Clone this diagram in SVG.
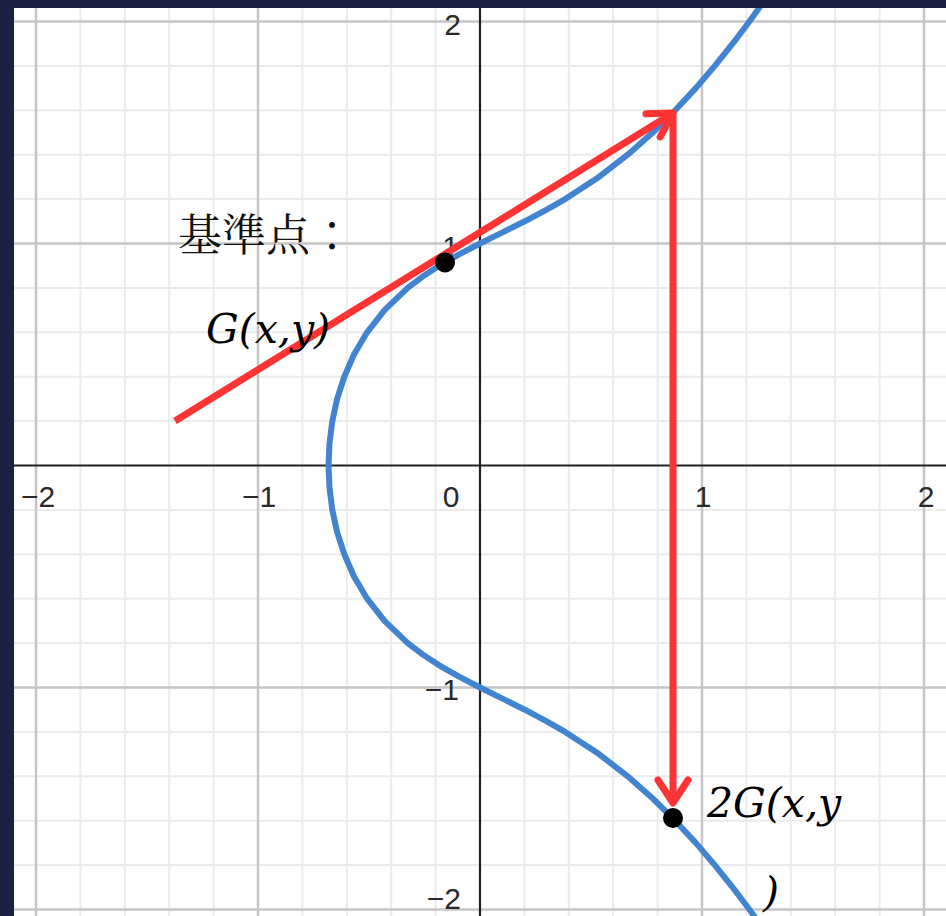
<svg xmlns="http://www.w3.org/2000/svg" width="946" height="916" viewBox="0 0 946 916">
<style>
.minor{stroke:#ebebeb;stroke-width:2;fill:none}
.major{stroke:#c6c6c6;stroke-width:2.5;fill:none}
.axis{stroke:#222;stroke-width:2.2;fill:none}
.tick{font-family:"Liberation Sans",Arial,sans-serif;font-size:30px;fill:#2a2a2a}
.curve{stroke:#4384d0;stroke-width:6;fill:none;stroke-linejoin:round;stroke-linecap:round}
.red{stroke:#fe3434;stroke-width:7;fill:none;stroke-linejoin:round}
.dot{fill:#000}
.math{font-family:"DejaVu Serif","Liberation Serif",serif;font-style:italic;font-size:41px;fill:#000}
.cjk{font-family:"Noto Serif CJK JP","Noto Sans CJK JP",serif;font-size:44px;fill:#111}
</style>
<rect x="0" y="0" width="946" height="916" fill="#ffffff"/>
<g id="grid">
<path class="minor" d="M80.4,0V916M124.8,0V916M169.2,0V916M213.6,0V916M302.4,0V916M346.8,0V916M391.2,0V916M435.6,0V916M524.4,0V916M568.8,0V916M613.2,0V916M657.6,0V916M746.4,0V916M790.8,0V916M835.2,0V916M879.6,0V916M0,65.9H946M0,110.3H946M0,154.7H946M0,199.1H946M0,287.9H946M0,332.3H946M0,376.7H946M0,421.1H946M0,509.9H946M0,554.3H946M0,598.7H946M0,643.1H946M0,731.9H946M0,776.3H946M0,820.7H946M0,865.1H946"/>
<path class="major" d="M36,0V916M258,0V916M702,0V916M924,0V916M0,21.5H946M0,243.5H946M0,687.5H946M0,909.5H946"/>
<path class="axis" d="M480,0V916M0,465.5H946"/>
</g>
<g id="ticks" class="tick">
<text x="461" y="35" text-anchor="end">2</text>
<text x="459" y="257" text-anchor="end">1</text>
<text x="459" y="700" text-anchor="end">−1</text>
<text x="461" y="909" text-anchor="end">−2</text>
<text x="38" y="507" text-anchor="middle">−2</text>
<text x="259" y="507" text-anchor="middle">−1</text>
<text x="451" y="507" text-anchor="middle">0</text>
<text x="703" y="507" text-anchor="middle">1</text>
<text x="926" y="507" text-anchor="middle">2</text>
</g>
<g id="curve">
<path class="curve" d="M765.4,-0.7 L749.4,21.5 L732.6,43.7 L714.8,65.9 L695.8,88.1 L675.2,110.3 L652.8,132.5 L627.7,154.7 L599,176.9 L565.2,199.1 L545.8,210.2 L524.8,221.3 L502.5,232.4 L480,243.5 L458.6,254.6 L439.2,265.7 L422.3,276.8 L407.7,287.9 L384.5,310.1 L367.1,332.3 L354,354.5 L344.3,376.7 L337.1,398.9 L332.3,421.1 L329.5,443.3 L328.5,465.5 L329.5,487.7 L332.3,509.9 L337.1,532.1 L344.3,554.3 L354,576.5 L367.1,598.7 L384.5,620.9 L407.7,643.1 L422.3,654.2 L439.2,665.3 L458.6,676.4 L480,687.5 L502.5,698.6 L524.8,709.7 L545.8,720.8 L565.2,731.9 L599,754.1 L627.7,776.3 L652.8,798.5 L675.2,820.7 L695.8,842.9 L714.8,865.1 L732.6,887.3 L749.4,909.5 L765.4,931.7"/>
</g>
<g id="connectors">
<path class="red" d="M175,421 L673,113"/>
<path class="red" stroke-linecap="round" d="M646,113.8 L673,113 L660.2,136.8"/>
<path class="red" d="M673,113 L673,802"/>
<path class="red" stroke-linecap="round" d="M658,780 L673,803 L688,780"/>
</g>
<g id="node-G">
<circle class="dot" cx="445" cy="262.5" r="10"/>
<text class="cjk" x="178" y="251">基準点：</text>
<text class="math" x="206" y="343">G(x,y)</text>
</g>
<g id="node-2G">
<circle class="dot" cx="673" cy="818" r="10"/>
<text class="math" x="707" y="817">2G(x,y</text>
<text class="math" x="763" y="906">)</text>
</g>
<g id="frame">
<rect x="0" y="0" width="946" height="8" fill="#1a2142"/>
<rect x="0" y="0" width="14" height="916" fill="#1a2142"/>
</g>
</svg>
